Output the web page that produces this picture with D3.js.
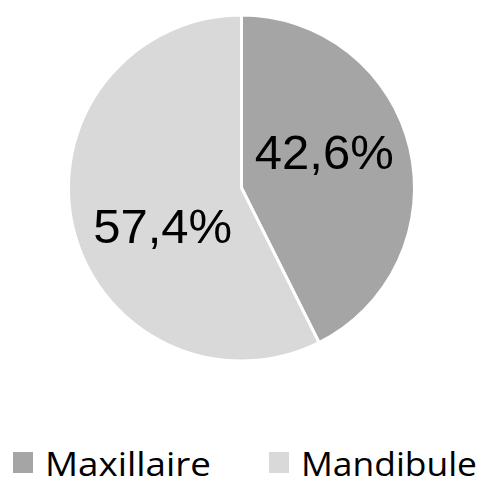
<!DOCTYPE html>
<html>
<head>
<meta charset="utf-8">
<script src="https://cdn.jsdelivr.net/npm/d3@7"></script>
<style>
  body { margin: 0; background: #fff; }
</style>
</head>
<body>
<script>
var categories = ["Maxillaire", "Mandibule"];
var values = [42.6, 57.4];
var labels = ["42,6%", "57,4%"];
var colors = ["#a5a5a5", "#d9d9d9"];

var width = 483, height = 479;
var cx = 241.5, cy = 188, radius = 173;

var svg = d3.select("body").append("svg")
    .attr("width", width)
    .attr("height", height);

var pie = d3.pie().sort(null).value(function (d) { return d; });
var arcs = pie(values);
var arc = d3.arc().innerRadius(0).outerRadius(radius);
// labels sit a bit counter-clockwise of the slice middle, like the original
var labelArc = d3.arc().innerRadius(89).outerRadius(89);
var labelShift = 0.2;

var g = svg.append("g").attr("transform", "translate(" + cx + "," + cy + ")");

g.selectAll("path")
    .data(arcs)
    .enter()
    .append("path")
    .attr("d", arc)
    .attr("fill", function (d, i) { return colors[i]; })
    .attr("stroke", "#fff")
    .attr("stroke-width", 3);

function labelPos(d) {
    return labelArc.centroid({ startAngle: d.startAngle - labelShift, endAngle: d.endAngle - labelShift });
}

g.selectAll("text")
    .data(arcs)
    .enter()
    .append("text")
    .attr("x", function (d) { return labelPos(d)[0] + 2; })
    .attr("y", function (d) { return labelPos(d)[1]; })
    .attr("dy", "0.37em")
    .attr("text-anchor", "middle")
    .style("font-family", "'Liberation Sans', Arial, sans-serif")
    .style("font-size", "49px")
    .attr("fill", "#000")
    .text(function (d, i) { return labels[i]; });

// legend
var legendX = [13, 269];
var legendW = [166, 176];
var legend = svg.selectAll(".legend")
    .data(categories)
    .enter()
    .append("g")
    .attr("class", "legend")
    .attr("transform", function (d, i) { return "translate(" + legendX[i] + ",452)"; });

legend.append("rect")
    .attr("width", 20)
    .attr("height", 21)
    .attr("fill", function (d, i) { return colors[i]; });

legend.append("text")
    .attr("x", 32)
    .attr("y", 24)
    .attr("textLength", function (d, i) { return legendW[i]; })
    .attr("lengthAdjust", "spacingAndGlyphs")
    .style("font-family", "'Open Sans', 'Noto Sans', sans-serif")
    .style("font-size", "32px")
    .attr("fill", "#000")
    .text(function (d) { return d; });
</script>
</body>
</html>
